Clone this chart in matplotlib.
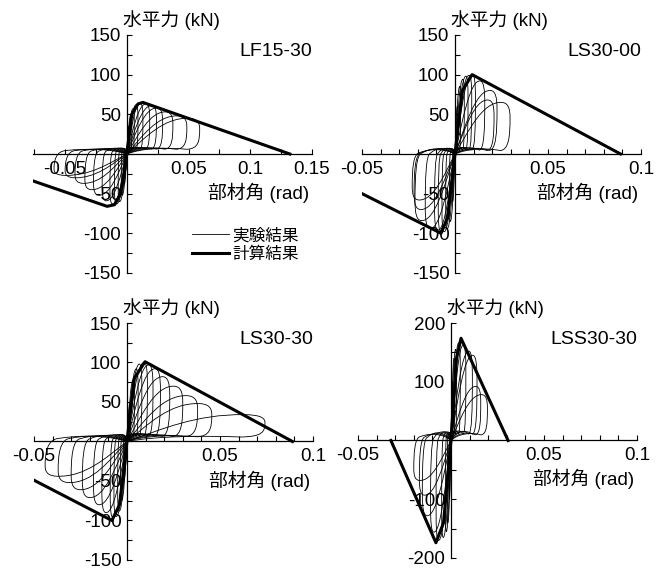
import matplotlib
matplotlib.use("Agg")
import matplotlib.pyplot as plt
from matplotlib.path import Path
from matplotlib.patches import PathPatch
from matplotlib.ticker import MultipleLocator, FuncFormatter

plt.rcParams['font.family'] = ['Liberation Sans', 'Noto Sans CJK JP']

# 試験体名
names = ['LF15-30', 'LS30-00', 'LS30-30', 'LSS30-30']

# 計算結果（骨格曲線）
lf_skel_x = [-0.076, -0.016, -0.010, -0.005, 0.0, 0.004, 0.009, 0.013, 0.132]
lf_skel_y = [-34, -66, -64, -50, 0, 50, 63, 65, 0]
ls00_skel_x = [-0.05, -0.0075, -0.004, 0.0, 0.004, 0.0092, 0.089]
ls00_skel_y = [-50, -100, -80, 0, 80, 100, 0]
ls30_skel_x = [-0.05, -0.0081, -0.004, 0.0, 0.004, 0.0097, 0.089]
ls30_skel_y = [-49, -100, -80, 0, 80, 101, 0]
lss_skel_x = [-0.0323, -0.0081, -0.004, 0.0, 0.003, 0.0054, 0.0307]
lss_skel_y = [0, -174, -140, 0, 140, 174, 0]

# 実験結果（各サイクルのピーク：正側 変位・荷重, 負側 変位・荷重）
lf_pos_d = [0.059, 0.0486, 0.0373, 0.029, 0.024, 0.0185, 0.013, 0.009, 0.006, 0.004, 0.002, 0.001]
lf_pos_f = [45, 48, 53, 58, 61, 63, 64, 62, 57, 50, 35, 20]
lf_neg_d = [-0.059, -0.050, -0.042, -0.034, -0.027, -0.020, -0.0137, -0.010, -0.007, -0.0045, -0.0025, -0.001]
lf_neg_f = [-27, -30, -37, -45, -52, -59, -63, -63, -60, -52, -38, -20]

ls00_pos_d = [0.0296, 0.0226, 0.021, 0.016, 0.011, 0.009, 0.007, 0.005, 0.003, 0.0015]
ls00_pos_f = [65, 80, 68, 92, 100, 99, 98, 94, 85, 60]
ls00_neg_d = [-0.023, -0.022, -0.0215, -0.016, -0.011, -0.009, -0.007, -0.005, -0.003, -0.0015]
ls00_neg_f = [-58, -70, -84, -94, -96, -98, -98, -94, -85, -60]

ls30_pos_d = [0.0742, 0.0456, 0.038, 0.030, 0.023, 0.018, 0.014, 0.011, 0.008, 0.006, 0.004, 0.002]
ls30_pos_f = [34, 48, 58, 70, 82, 92, 97, 100, 98, 92, 78, 50]
ls30_neg_d = [-0.044, -0.037, -0.030, -0.024, -0.018, -0.0135, -0.009, -0.007, -0.005, -0.0035, -0.002, -0.001]
ls30_neg_f = [-44, -52, -61, -71, -80, -90, -96, -95, -88, -75, -50, -30]

lss_pos_d = [0.0196, 0.016, 0.014, 0.0115, 0.008, 0.005, 0.003, 0.002, 0.001]
lss_pos_f = [78, 92, 145, 152, 163, 166, 155, 140, 100]
lss_neg_d = [-0.020, -0.017, -0.0154, -0.011, -0.008, -0.005, -0.003, -0.002, -0.001]
lss_neg_f = [-68, -93, -128, -156, -170, -165, -155, -140, -100]

# ピンチング部の荷重 (kN)
pinch = [5, 3, 5, 8]


def half_loop(d, f, p):
    # 原点 -> ピーク -> 垂直に除荷 -> ゼロ付近を戻る
    q = abs(f)
    verts = [(0.25 * d, 0.45 * f), (0.5 * d, 1.02 * f), (0.85 * d, f),
             (0.96 * d, 0.99 * f), (d, 0.9 * f), (d, 0.7 * f),
             (d, 0.35 * f), (0.98 * d, p + 0.03 * f), (0.82 * d, p + 0.02 * f),
             (0.55 * d, p + 0.08 * q), (0.2 * d, p + 0.05 * q), (0.0, 0.0)]
    return verts


def draw_panel(ax, name, skel_x, skel_y, pos_d, pos_f, neg_d, neg_f, p,
               xlim, ylim, xmaj, xmin, ymaj, ymin):
    for dp, fp, dn, fn in zip(pos_d, pos_f, neg_d, neg_f):
        verts = [(0.0, 0.0)] + half_loop(dp, fp, p) + half_loop(dn, fn, p)
        codes = [Path.MOVETO] + [Path.CURVE4] * (len(verts) - 1)
        ax.add_patch(PathPatch(Path(verts, codes), fill=False, lw=0.6, color='black'))
    ax.plot(skel_x, skel_y, color='black', lw=2.2, solid_joinstyle='round')

    ax.set_xlim(xlim)
    ax.set_ylim(ylim)
    ax.spines['left'].set_position(('data', 0))
    ax.spines['bottom'].set_position(('data', 0))
    ax.spines['right'].set_visible(False)
    ax.spines['top'].set_visible(False)
    for s in ['left', 'bottom']:
        ax.spines[s].set_linewidth(0.9)
    ax.patch.set_visible(False)

    ax.xaxis.set_major_locator(MultipleLocator(xmaj))
    ax.xaxis.set_minor_locator(MultipleLocator(xmin))
    ax.yaxis.set_major_locator(MultipleLocator(ymaj))
    ax.yaxis.set_minor_locator(MultipleLocator(ymin))
    ax.xaxis.set_major_formatter(FuncFormatter(lambda v, p: '' if abs(v) < 1e-9 else '%g' % round(v, 3)))
    ax.yaxis.set_major_formatter(FuncFormatter(lambda v, p: '' if abs(v) < 1e-9 else '%d' % v))
    ax.tick_params(which='both', direction='in', length=3.6, width=0.8, labelsize=13.5)
    ax.tick_params(axis='x', which='major', pad=5)
    ax.tick_params(axis='y', which='major', pad=4)

    ax.text(1.0, 0.93, name, transform=ax.transAxes, ha='right', va='center', fontsize=14)
    ax.annotate('水平力 (kN)', xy=(0, 1), xycoords=('data', 'axes fraction'),
                xytext=(-3, 11), textcoords='offset points', ha='left', va='center', fontsize=13.5)
    ax.annotate('部材角 (rad)', xy=(1, 0), xycoords=('axes fraction', 'data'),
                xytext=(-2, -28), textcoords='offset points', ha='right', va='center', fontsize=13.5)


fig = plt.figure(figsize=(6.7, 5.73), dpi=100)
ax1 = fig.add_axes([0.0493, 0.5236, 0.4164, 0.4154])
ax2 = fig.add_axes([0.5403, 0.5236, 0.4164, 0.4154])
ax3 = fig.add_axes([0.0507, 0.0227, 0.4164, 0.4136])
ax4 = fig.add_axes([0.5343, 0.0262, 0.4164, 0.4101])

draw_panel(ax1, names[0], lf_skel_x, lf_skel_y, lf_pos_d, lf_pos_f, lf_neg_d, lf_neg_f, pinch[0],
           (-0.076, 0.15), (-150, 150), 0.05, 0.025, 50, 25)
draw_panel(ax2, names[1], ls00_skel_x, ls00_skel_y, ls00_pos_d, ls00_pos_f, ls00_neg_d, ls00_neg_f, pinch[1],
           (-0.05, 0.1), (-150, 150), 0.05, 0.01, 50, 25)
draw_panel(ax3, names[2], ls30_skel_x, ls30_skel_y, ls30_pos_d, ls30_pos_f, ls30_neg_d, ls30_neg_f, pinch[2],
           (-0.05, 0.1), (-150, 150), 0.05, 0.01, 50, 25)
draw_panel(ax4, names[3], lss_skel_x, lss_skel_y, lss_pos_d, lss_pos_f, lss_neg_d, lss_neg_f, pinch[3],
           (-0.05, 0.1), (-200, 200), 0.05, 0.01, 100, 50)

# 凡例
h1, = ax1.plot([], [], color='black', lw=0.6, label='実験結果')
h2, = ax1.plot([], [], color='black', lw=2.2, label='計算結果')
ax1.legend(handles=[h1, h2], loc='center left', bbox_to_anchor=(0.54, 0.118), frameon=False,
           fontsize=12, handlelength=2.2, handletextpad=0.2, labelspacing=0.2, borderpad=0)

fig.savefig('out.png', dpi=100)
